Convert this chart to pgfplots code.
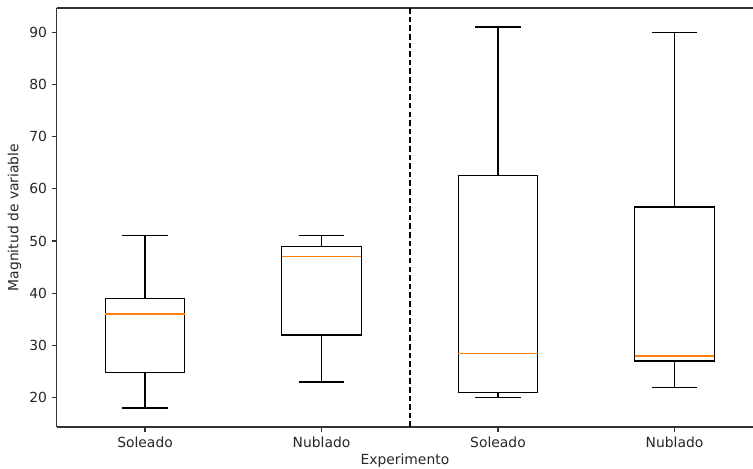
\documentclass[border=0pt]{standalone}
\usepackage{fontspec}
\setmainfont{DejaVu Sans}
\usepackage{pgfplots}
\pgfplotsset{compat=1.18}
\usepgfplotslibrary{statistics}
\definecolor{mplorange}{HTML}{FF7F0E}
\begin{document}
\begin{tikzpicture}
\begin{axis}[
  scale only axis,
  width=501.3pt, height=301.7pt,
  xmin=0.5, xmax=4.445,
  ymin=14.35, ymax=94.65,
  axis x line*=box, axis y line*=left,
  axis line style={line width=0.8pt, black!80},
  xtick={1,2,3,4},
  xticklabels={Soleado,Nublado,Soleado,Nublado},
  ytick={20,30,40,50,60,70,80,90},
  xtick pos=bottom, ytick pos=left,
  tick align=outside,
  major tick length=3.5pt,
  tick style={line width=0.8pt, black!80},
  /pgf/number format/assume math mode=true,
  ticklabel style={font=\fontsize{10}{12}\selectfont, text=black!85},
  label style={font=\fontsize{10}{12}\selectfont, text=black!85},
  xlabel={Experimento},
  ylabel={Magnitud de variable},
  xlabel style={yshift=2pt},
  ylabel style={yshift=-1pt},
  boxplot/draw direction=y,
  boxplot/box extend=0.45,
  boxplot/whisker extend=0.26,
  boxplot/every median/.style={draw=mplorange, line width=1pt},
  boxplot/every box/.style={draw=black, line width=0.9pt},
  boxplot/every whisker/.style={draw=black, line width=0.9pt},
  clip=false,
]
\addplot[boxplot prepared={lower whisker=18, lower quartile=24.8, median=36, upper quartile=39, upper whisker=51, draw position=1}, draw=black, line width=0.9pt] coordinates {};
\addplot[boxplot prepared={lower whisker=23, lower quartile=32, median=47, upper quartile=49, upper whisker=51, draw position=2}, draw=black, line width=0.9pt] coordinates {};
\addplot[boxplot prepared={lower whisker=20, lower quartile=21, median=28.5, upper quartile=62.5, upper whisker=91, draw position=3}, draw=black, line width=0.9pt] coordinates {};
\addplot[boxplot prepared={lower whisker=22, lower quartile=27, median=28, upper quartile=56.5, upper whisker=90, draw position=4}, draw=black, line width=0.9pt] coordinates {};
\addplot[black, line width=1.3pt, dash pattern=on 4pt off 2.2pt, mark=none] coordinates {(2.5,14.35) (2.5,94.65)};
\end{axis}
\pgfresetboundingbox
\path[use as bounding box] (-40.9pt,-29.5pt) rectangle (501.3pt,307.5pt);
\end{tikzpicture}
\end{document}
